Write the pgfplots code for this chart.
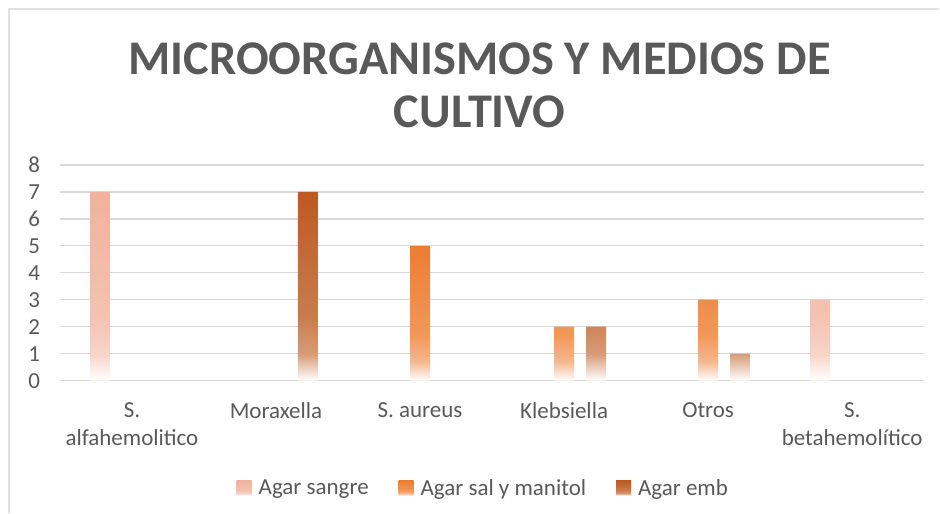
\documentclass[border=0pt]{standalone}
\usepackage{fontspec}
\setmainfont{Carlito}
\usepackage{pgfplots}
\pgfplotsset{compat=1.18}

\definecolor{txtgray}{HTML}{595959}
\definecolor{gridgray}{HTML}{D9D9D9}
\definecolor{csangre}{HTML}{F1B19C}
\definecolor{csal}{HTML}{ED7D31}
\definecolor{cemb}{HTML}{BD5A1E}

% bars fade to white near the bottom
\colorlet{sangreA}{csangre!55!white}\colorlet{sangreB}{csangre!78!white}
\colorlet{salA}{csal!55!white}\colorlet{salB}{csal!80!white}
\colorlet{embA}{cemb!60!white}\colorlet{embB}{cemb!80!white}
\pgfdeclareverticalshading{fadesangre}{100bp}{color(0bp)=(white); color(25bp)=(white); color(32bp)=(sangreA); color(42bp)=(sangreB); color(75bp)=(csangre); color(100bp)=(csangre)}
\pgfdeclareverticalshading{fadesal}{100bp}{color(0bp)=(white); color(25bp)=(white); color(32bp)=(salA); color(42bp)=(salB); color(75bp)=(csal); color(100bp)=(csal)}
\pgfdeclareverticalshading{fadeemb}{100bp}{color(0bp)=(white); color(25bp)=(white); color(32bp)=(embA); color(42bp)=(embB); color(75bp)=(cemb); color(100bp)=(cemb)}

\begin{document}
\begin{tikzpicture}
\path (0,0) rectangle (470pt,256.5pt);
\draw[gridgray!80, line width=0.8pt] (4.5pt,0) -- (4.5pt,252pt) -- (470pt,252pt);

\node[text=txtgray, font=\fontsize{24.2}{26.5}\selectfont\bfseries, align=center]
  at (240pt,214pt) {MICROORGANISMOS Y MEDIOS DE\\CULTIVO};

\begin{axis}[
  at={(30pt,66pt)}, anchor=south west,
  scale only axis, width=432.5pt, height=108pt,
  ybar=6pt, bar width=10pt,
  xmin=-0.5, xmax=5.5, ymin=0, ymax=8,
  ytick={0,1,...,8},
  xtick={0,1,2,3,4,5},
  xticklabels={{S.\\alfahemolitico},{Moraxella},{S. aureus},{Klebsiella},{Otros},{S.\\betahemolítico}},
  xticklabel style={align=center, anchor=north, yshift=-7.5pt,
    font=\fontsize{11.5}{14}\selectfont, text=txtgray},
  yticklabel style={font=\fontsize{11.5}{14}\selectfont, text=txtgray, xshift=-6.5pt},
  /pgf/number format/assume math mode=true,
  major tick length=0pt,
  axis line style={draw=none},
  ymajorgrids, grid style={gridgray, line width=0.7pt},
  legend style={at={(0.491,-0.5)}, anchor=center, draw=none,
    font=\fontsize{11.5}{14}\selectfont, text=txtgray,
    legend columns=-1,
    /tikz/every odd column/.append style={column sep=1.5pt},
    /tikz/every even column/.append style={column sep=13pt}},
  legend image code/.code={\path[#1] (0pt,-3.5pt) rectangle (7.5pt,4pt);},
]
\addplot[draw=none, shading=fadesangre] coordinates {(0,7) (5,3)};
\addplot[draw=none, shading=fadesal] coordinates {(2,5) (3,2) (4,3)};
\addplot[draw=none, shading=fadeemb] coordinates {(1,7) (3,2) (4,1)};
\legend{Agar sangre, Agar sal y manitol, Agar emb}
\end{axis}
\end{tikzpicture}
\end{document}
